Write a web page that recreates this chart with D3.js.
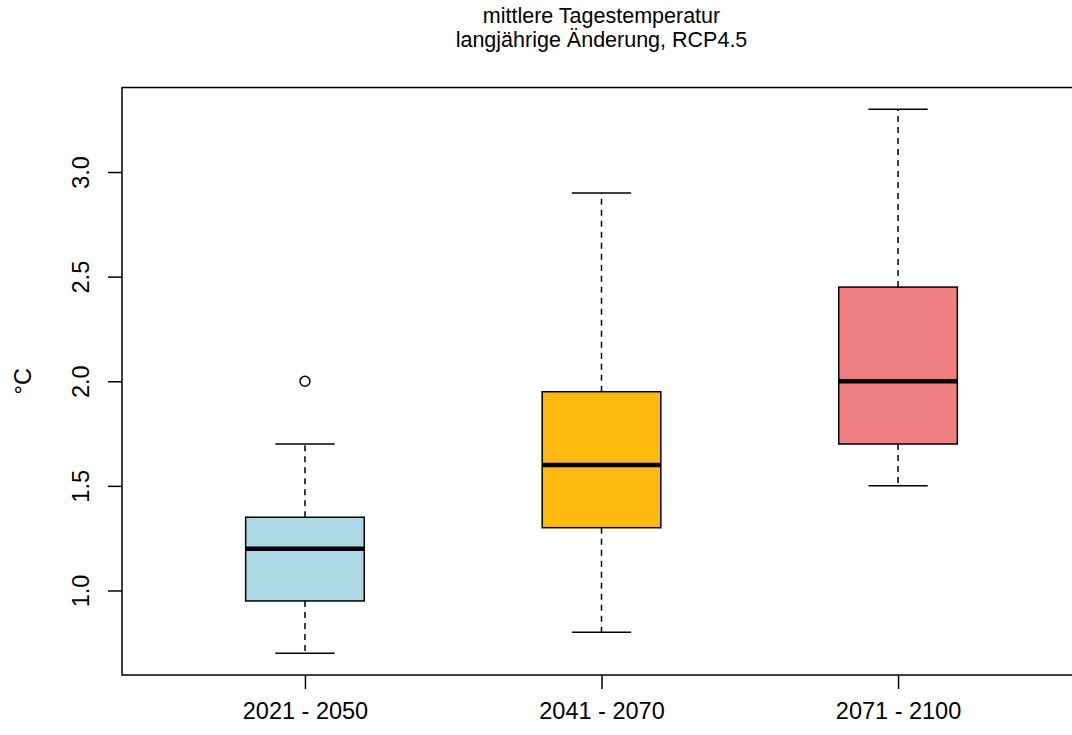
<!DOCTYPE html>
<html>
<head>
<meta charset="utf-8">
<script src="https://cdn.jsdelivr.net/npm/d3@7"></script>
<style>
  html, body { margin: 0; padding: 0; background: #fff; }
  svg { display: block; }
  text { font-family: "Liberation Sans", Arial, sans-serif; fill: #000; }
</style>
</head>
<body>
<svg id="chart" width="1072" height="735"></svg>
<script>
// Periods (x categories)
const periods = ["2021 - 2050", "2041 - 2070", "2071 - 2100"];
// Five-number summaries per period: lower whisker, Q1, median, Q3, upper whisker
const whiskerLow  = [0.70, 0.80, 1.50];
const quartile1   = [0.95, 1.30, 1.70];
const medians     = [1.20, 1.60, 2.00];
const quartile3   = [1.35, 1.95, 2.45];
const whiskerHigh = [1.70, 2.90, 3.30];
// Outlying values per period
const outliers = [[2.00], [], []];
const boxColors = ["#ADD8E6", "#FFB90F", "#F08080"];
const yTicks = [1.0, 1.5, 2.0, 2.5, 3.0];
const titleLines = ["mittlere Tagestemperatur", "langjährige Änderung, RCP4.5"];
const yLabel = "°C";

const svg = d3.select("#chart");
const plot = { left: 122, right: 1081, top: 87.5, bottom: 675 };
const FONT = "'Liberation Sans', Arial, sans-serif";

// y range padded by 4% of the data span on both ends
const lo = d3.min(whiskerLow), hi = d3.max(whiskerHigh);
const pad = (hi - lo) * 0.04;
const y = d3.scaleLinear().domain([lo - pad, hi + pad]).range([plot.bottom, plot.top]);
const x = d3.scaleLinear().domain([0.383, 3.617]).range([plot.left, plot.right]);

const boxHalf = x(1.2) - x(1);
const capHalf = boxHalf / 2;

// Plot frame (right side runs past the page edge)
svg.append("rect")
  .attr("x", plot.left).attr("y", plot.top)
  .attr("width", plot.right - plot.left).attr("height", plot.bottom - plot.top)
  .attr("fill", "none").attr("stroke", "#000").attr("stroke-width", 1.5);

// Y axis ticks and rotated labels
const yAxis = d3.axisLeft(y).tickValues(yTicks).tickSize(14).tickFormat(d3.format(".1f"));
const gy = svg.append("g").attr("transform", `translate(${plot.left},0)`).call(yAxis);
gy.select(".domain").remove();
gy.selectAll(".tick line").attr("stroke", "#000").attr("stroke-width", 1.5);
gy.selectAll(".tick text")
  .attr("x", 0).attr("y", 0).attr("dy", null)
  .attr("transform", "translate(-33,0) rotate(-90)")
  .attr("text-anchor", "middle")
  .attr("font-size", 23.5)
  .style("font-family", FONT);

// X axis ticks and labels
const xAxis = d3.axisBottom(x).tickValues([1, 2, 3]).tickSize(14)
  .tickFormat(d => periods[d - 1]);
const gx = svg.append("g").attr("transform", `translate(0,${plot.bottom})`).call(xAxis);
gx.select(".domain").remove();
gx.selectAll(".tick line").attr("stroke", "#000").attr("stroke-width", 1.5);
gx.selectAll(".tick text")
  .attr("y", 44).attr("dy", null)
  .attr("font-size", 23.5)
  .style("font-family", FONT);

// Boxes
const idx = d3.range(periods.length);
const g = svg.append("g");
idx.forEach(i => {
  const cx = x(i + 1);
  // whiskers (dashed) with end caps
  [[quartile1[i], whiskerLow[i]], [quartile3[i], whiskerHigh[i]]].forEach(([a, b]) => {
    g.append("line")
      .attr("x1", cx).attr("x2", cx).attr("y1", y(a)).attr("y2", y(b))
      .attr("stroke", "#000").attr("stroke-width", 1.5).attr("stroke-dasharray", "6,5");
    g.append("line")
      .attr("x1", cx - capHalf).attr("x2", cx + capHalf).attr("y1", y(b)).attr("y2", y(b))
      .attr("stroke", "#000").attr("stroke-width", 1.5);
  });
  // box
  g.append("rect")
    .attr("x", cx - boxHalf).attr("width", 2 * boxHalf)
    .attr("y", y(quartile3[i])).attr("height", y(quartile1[i]) - y(quartile3[i]))
    .attr("fill", boxColors[i]).attr("stroke", "#000").attr("stroke-width", 1.5);
  // median
  g.append("line")
    .attr("x1", cx - boxHalf).attr("x2", cx + boxHalf)
    .attr("y1", y(medians[i])).attr("y2", y(medians[i]))
    .attr("stroke", "#000").attr("stroke-width", 4.5);
  // outliers
  outliers[i].forEach(v => {
    g.append("circle").attr("cx", cx).attr("cy", y(v)).attr("r", 5)
      .attr("fill", "none").attr("stroke", "#000").attr("stroke-width", 1.5);
  });
});

// Title
const midX = (plot.left + plot.right) / 2;
titleLines.forEach((t, k) => {
  svg.append("text")
    .attr("x", midX).attr("y", 22.5 + k * 24)
    .attr("text-anchor", "middle").attr("font-size", 21.5)
    .text(t);
});

// Y axis title
svg.append("text")
  .attr("transform", `translate(31,${(plot.top + plot.bottom) / 2}) rotate(-90)`)
  .attr("text-anchor", "middle").attr("font-size", 23.5)
  .text(yLabel);
</script>
</body>
</html>
